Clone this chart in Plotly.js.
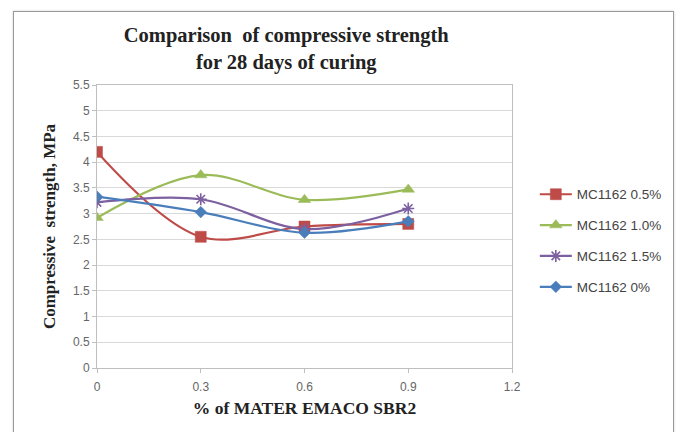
<!DOCTYPE html>
<html>
<head>
<meta charset="utf-8">
<script src="https://cdn.plot.ly/plotly-3.0.1.min.js"></script>
<style>
html,body{margin:0;padding:0;background:#fff;}
#wrap{position:relative;width:680px;height:432px;}
#chart{width:680px;height:432px;}
#frame{position:absolute;left:13px;top:11px;width:659px;height:430px;border:1px solid #9a9a9a;border-bottom:none;pointer-events:none;box-shadow:0 0 2px #ccc;}
</style>
</head>
<body>
<div id="wrap">
<div id="chart"></div>
<div id="frame"></div>
</div>
<script>
const xValues = [0, 0.3, 0.6, 0.9];
const seriesNames = ["MC1162 0.5%", "MC1162 1.0%", "MC1162 1.5%", "MC1162 0%"];
const mc05 = [4.2, 2.55, 2.75, 2.8];
const mc10 = [2.92, 3.75, 3.27, 3.47];
const mc15 = [3.22, 3.28, 2.7, 3.1];
const mc00 = [3.33, 3.03, 2.63, 2.85];
const xTicks = [0, 0.3, 0.6, 0.9, 1.2];
const xTickLabels = ["0", "0.3", "0.6", "0.9", "1.2"];
const yTicks = [0, 0.5, 1, 1.5, 2, 2.5, 3, 3.5, 4, 4.5, 5, 5.5];
const yTickLabels = ["0", "0.5", "1", "1.5", "2", "2.5", "3", "3.5", "4", "4.5", "5", "5.5"];

const colors = ["#BE4B48", "#9BBB59", "#7D60A0", "#4A7EBB"];
const symbols = ["square", "triangle-up", "asterisk-open", "diamond"];
const sizes = [11, 11, 10, 9];
const data = [mc05, mc10, mc15, mc00].map((ys, i) => ({
  x: xValues, y: ys, name: seriesNames[i], type: "scatter", mode: "lines+markers",
  legendgroup: "g" + i,
  line: {color: colors[i], width: 2.2, shape: "spline", smoothing: 1},
  marker: {symbol: symbols[i], size: sizes[i], color: colors[i],
           line: {color: colors[i], width: symbols[i] === "asterisk-open" ? 1.6 : 0.5}}
}));

const layout = {
  width: 680, height: 432,
  margin: {l: 97, r: 168, t: 85, b: 64},
  paper_bgcolor: "#fff", plot_bgcolor: "#fff",
  showlegend: true,
  title: {
    text: "<b>Comparison  of compressive strength<br>for 28 days of curing</b>",
    font: {family: "Liberation Serif", size: 20.5, color: "#222"},
    x: 0.421, xanchor: "center", y: 0.903, yanchor: "top"
  },
  xaxis: {
    range: [0, 1.2], tickvals: xTicks, ticktext: xTickLabels,
    showgrid: false, zeroline: false, showline: true, linecolor: "#bfbfbf", mirror: true,
    ticks: "outside", ticklen: 4, tickcolor: "#bfbfbf", ticklabelstandoff: 4,
    tickfont: {family: "Liberation Sans", size: 12, color: "#666"},
    title: {text: "<b>% of MATER EMACO SBR2</b>", font: {family: "Liberation Serif", size: 17.5, color: "#222"}, standoff: 8}
  },
  yaxis: {
    range: [0, 5.5], tickvals: yTicks, ticktext: yTickLabels,
    showgrid: true, gridcolor: "#d9d9d9", gridwidth: 1, zeroline: false,
    showline: true, linecolor: "#bfbfbf", mirror: true,
    ticks: "outside", ticklen: 4, tickcolor: "#bfbfbf",
    tickfont: {family: "Liberation Sans", size: 12, color: "#666"},
    title: {text: "<b>Compressive  strength, MPa</b>", font: {family: "Liberation Serif", size: 17, color: "#222"}, standoff: 12}
  },
  legend: {
    x: 1.055, xanchor: "left", y: 0.668, yanchor: "top",
    font: {family: "Liberation Sans", size: 13.5, color: "#444"},
    traceorder: "grouped", tracegroupgap: 10.3, itemwidth: 32, bgcolor: "rgba(0,0,0,0)"
  }
};
Plotly.newPlot("chart", data, layout, {displayModeBar: false, staticPlot: true});
</script>
</body>
</html>
